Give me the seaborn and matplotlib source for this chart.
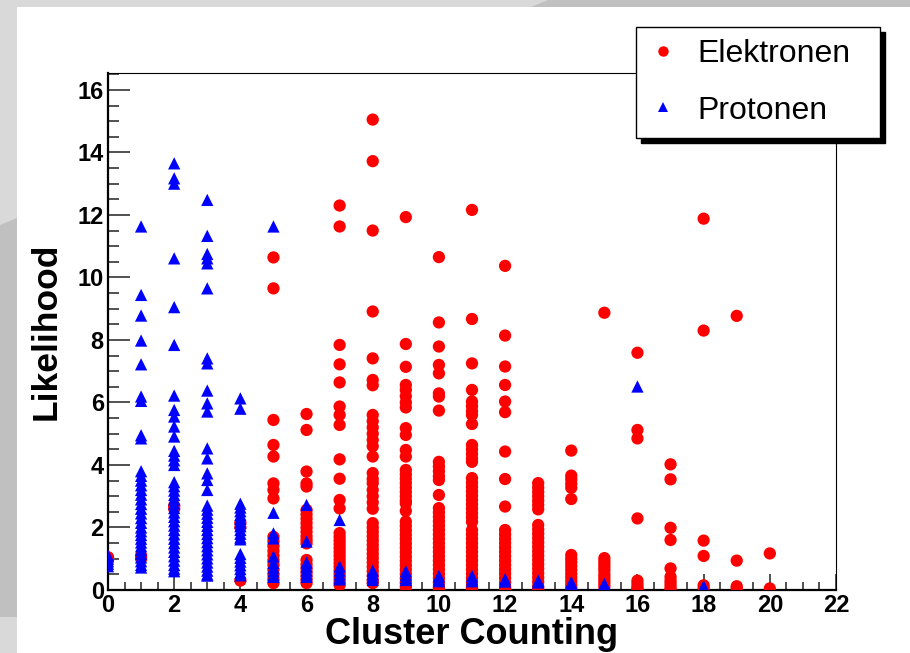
import matplotlib
matplotlib.use("Agg")
import numpy as np
import pandas as pd
import seaborn as sns
import matplotlib.pyplot as plt
from matplotlib.patches import Polygon, Rectangle
from matplotlib.ticker import MultipleLocator
from matplotlib.lines import Line2D

# ---------------- data ----------------
# Elektronen: likelihood values per cluster count
el_0 = [0.95, 1.05]
el_1 = [1.0, 1.1]
el_2 = [2.6, 2.7]
el_4 = [2.15, 2.0, 0.3]
el_5 = [10.64, 9.65, 5.44, 4.64, 4.27, 3.41, 3.2, 2.93, 1.7, 1.55, 1.4, 1.25, 1.1,
        0.95, 0.8, 0.65, 0.5, 0.35, 0.22]
el_6 = [5.63, 5.12, 3.79, 3.41, 3.31, 2.56, 2.42, 2.28, 2.14, 2.0, 1.86, 1.72, 1.6,
        1.49, 0.96, 0.82, 0.7, 0.58, 0.46, 0.34, 0.22]
el_7 = [12.3, 11.63, 7.84, 7.22, 6.64, 5.87, 5.6, 5.28, 4.18, 3.56, 2.88, 2.61, 1.82,
        1.7, 1.58, 1.46, 1.34, 1.22, 1.1, 0.98, 0.86, 0.74, 0.62, 0.5, 0.38, 0.26, 0.16]
el_8 = [15.05, 13.72, 11.5, 8.91, 7.41, 6.72, 6.55, 5.6, 5.4, 5.2, 5.0, 4.8, 4.6, 4.27,
        3.74, 3.55, 3.42, 3.2, 3.0, 2.8, 2.6, 2.14, 2.0, 1.86, 1.72, 1.58, 1.44, 1.3,
        1.16, 1.02, 0.88, 0.74, 0.6, 0.46, 0.32, 0.22]
el_9 = [11.93, 7.87, 7.14, 6.56, 6.4, 6.2, 6.0, 5.84, 5.18, 4.96, 4.48, 4.27, 3.84, 3.7,
        3.56, 3.42, 3.28, 3.14, 3.0, 2.86, 2.77, 2.53, 2.19, 2.05, 1.91, 1.77, 1.63,
        1.49, 1.35, 1.21, 1.07, 0.93, 0.79, 0.65, 0.51, 0.37, 0.23, 0.1]
el_10 = [10.65, 8.56, 7.79, 7.2, 6.93, 6.29, 6.19, 5.74, 4.1, 3.95, 3.8, 3.64, 3.52,
         3.04, 2.62, 2.48, 2.34, 2.2, 2.06, 1.92, 1.78, 1.64, 1.5, 1.36, 1.22, 1.08,
         0.94, 0.8, 0.66, 0.52, 0.38, 0.24, 0.1, 0.02]
el_11 = [12.16, 8.67, 7.25, 6.4, 6.03, 5.88, 5.72, 5.6, 5.31, 4.64, 4.5, 4.35, 4.2, 4.1,
         3.58, 3.44, 3.3, 3.16, 3.02, 2.88, 2.74, 2.6, 2.46, 2.32, 2.18, 1.92, 1.78,
         1.64, 1.5, 1.36, 1.22, 1.08, 0.94, 0.8, 0.66, 0.52, 0.38, 0.24, 0.1, 0.04]
el_12 = [10.37, 8.14, 7.15, 6.56, 6.03, 5.69, 4.43, 3.55, 2.67, 1.92, 1.78, 1.64, 1.5,
         1.36, 1.22, 1.08, 0.94, 0.8, 0.66, 0.52, 0.38, 0.24, 0.1, 0.04]
el_13 = [3.42, 3.28, 3.14, 3.0, 2.86, 2.72, 2.58, 2.08, 1.94, 1.8, 1.66, 1.52, 1.38,
         1.24, 1.1, 0.96, 0.82, 0.68, 0.54, 0.4, 0.26, 0.12, 0.05]
el_14 = [4.46, 3.66, 3.54, 3.4, 3.27, 2.91, 1.12, 1.0, 0.88, 0.76, 0.64, 0.52, 0.4,
         0.28, 0.16, 0.06]
el_15 = [8.87, 1.02, 0.92, 0.82, 0.72, 0.62, 0.5, 0.4, 0.3, 0.2, 0.1]
el_16 = [7.59, 5.12, 4.85, 2.29, 0.3, 0.2, 0.1, 0.04]
el_17 = [4.02, 3.54, 1.99, 1.6, 0.69, 0.42, 0.3, 0.2, 0.1, 0.02]
el_18 = [11.88, 8.3, 1.58, 1.09, 0.15, 0.05]
el_19 = [8.77, 0.94, 0.12, 0.06]
el_20 = [1.17, 0.05]

# Protonen: likelihood values per cluster count
pr_0 = [1.1, 1.0, 0.92, 0.84, 0.76]
pr_1 = [11.63, 9.44, 8.78, 7.98, 7.22, 6.19, 6.05, 4.95, 4.85, 3.8, 3.65, 3.5, 3.35,
        3.2, 3.05, 2.9, 2.75, 2.6, 2.45, 2.3, 2.15, 2.0, 1.88, 1.76, 1.64, 1.52, 1.4,
        1.28, 1.16, 1.04, 0.92, 0.8, 0.72]
pr_2 = [13.65, 13.17, 13.0, 10.61, 9.05, 7.84, 6.22, 5.76, 5.55, 5.23, 4.91, 4.45, 4.3,
        4.15, 4.0, 3.45, 3.32, 3.18, 3.04, 2.9, 2.76, 2.62, 2.48, 2.34, 2.2, 2.06,
        1.92, 1.78, 1.64, 1.5, 1.36, 1.22, 1.08, 0.94, 0.8, 0.68, 0.6]
pr_3 = [12.48, 11.33, 10.75, 10.61, 10.45, 9.65, 7.41, 7.25, 6.38, 5.97, 5.71, 4.53,
        4.21, 3.73, 3.52, 3.2, 2.7, 2.57, 2.44, 2.31, 2.18, 2.05, 1.92, 1.79, 1.66,
        1.53, 1.4, 1.27, 1.14, 1.01, 0.88, 0.75, 0.62, 0.5, 0.46]
pr_4 = [6.13, 5.8, 2.76, 2.64, 2.52, 2.4, 2.28, 2.16, 2.04, 1.92, 1.8, 1.68, 1.62,
        1.15, 1.03, 0.91, 0.79, 0.67, 0.55, 0.47]
pr_5 = [11.63, 2.47, 1.81, 1.65, 1.07, 0.86, 0.72, 0.6, 0.48, 0.42]
pr_6 = [2.72, 1.55, 0.88, 0.75, 0.62, 0.5, 0.42]
pr_7 = [2.24, 0.75, 0.62, 0.5, 0.4, 0.34]
pr_8 = [0.62, 0.5, 0.4, 0.32]
pr_9 = [0.6, 0.48, 0.38, 0.32]
pr_10 = [0.45, 0.35, 0.28]
pr_11 = [0.45, 0.35, 0.28]
pr_12 = [0.35, 0.27]
pr_13 = [0.3, 0.24]
pr_14 = [0.25, 0.2]
pr_15 = [0.2, 0.15]
pr_16 = [6.51]
pr_18 = [0.12]

elektronen = {0: el_0, 1: el_1, 2: el_2, 4: el_4, 5: el_5, 6: el_6, 7: el_7, 8: el_8,
              9: el_9, 10: el_10, 11: el_11, 12: el_12, 13: el_13, 14: el_14,
              15: el_15, 16: el_16, 17: el_17, 18: el_18, 19: el_19, 20: el_20}
protonen = {0: pr_0, 1: pr_1, 2: pr_2, 3: pr_3, 4: pr_4, 5: pr_5, 6: pr_6, 7: pr_7,
            8: pr_8, 9: pr_9, 10: pr_10, 11: pr_11, 12: pr_12, 13: pr_13,
            14: pr_14, 15: pr_15, 16: pr_16, 18: pr_18}

labels = ["Elektronen", "Protonen"]
x_label = "Cluster Counting"
y_label = "Likelihood"

rows = []
for k, vals in elektronen.items():
    for v in vals:
        rows.append((k, v, labels[0]))
for k, vals in protonen.items():
    for v in vals:
        rows.append((k, v, labels[1]))
df = pd.DataFrame(rows, columns=["cc", "lh", "Teilchen"])

# ---------------- figure ----------------
W, H = 910, 653
plt.rcParams["font.family"] = ["Liberation Sans", "DejaVu Sans"]
fig = plt.figure(figsize=(W / 100, H / 100), dpi=100, facecolor="#c0c0c0")


def px(x, y):
    return (x / W, 1 - y / H)


fig.patches.append(Polygon([px(0, 0), px(548, 0), px(0, 225)], closed=True,
                           transform=fig.transFigure, facecolor="#d9d9d9",
                           edgecolor="none", zorder=-3))
fig.patches.append(Rectangle(px(0, 653), 17 / W, 36 / H, transform=fig.transFigure,
                             facecolor="#d9d9d9", edgecolor="none", zorder=-3))
fig.patches.append(Rectangle(px(17, 653), 1 - 17 / W, (653 - 7) / H,
                             transform=fig.transFigure, facecolor="white",
                             edgecolor="none", zorder=-2))

ax = fig.add_axes([108 / W, 63 / H, 728 / W, 517 / H])
ax.set_facecolor("white")

sns.scatterplot(data=df, x="cc", y="lh", hue="Teilchen", style="Teilchen",
                palette={"Elektronen": "#ff0000", "Protonen": "#0000ff"},
                markers={"Elektronen": "o", "Protonen": "^"},
                s=78, linewidth=0, ax=ax, legend=False, zorder=3)

ax.set_xlim(0, 22)
ax.set_ylim(0, 16.54)
ax.xaxis.set_major_locator(MultipleLocator(2))
ax.xaxis.set_minor_locator(MultipleLocator(0.5))
ax.yaxis.set_major_locator(MultipleLocator(2))
ax.yaxis.set_minor_locator(MultipleLocator(0.5))

tick_font = dict(family="Liberation Sans", weight="bold", size=17)
ax.tick_params(axis="x", which="major", direction="in", length=11.5, width=1.1,
               color="#222222", pad=3, top=False)
ax.tick_params(axis="x", which="minor", direction="in", length=5.8, width=1.1,
               color="#222222", top=False)
ax.tick_params(axis="y", which="major", direction="in", length=15.8, width=1.1,
               color="#222222", pad=3, right=False)
ax.tick_params(axis="y", which="minor", direction="in", length=7.9, width=1.1,
               color="#222222", right=False)
for lab in ax.get_xticklabels() + ax.get_yticklabels():
    lab.set_fontproperties(tick_font)
    lab.set_fontweight("bold")

for s in ["left", "bottom"]:
    ax.spines[s].set_linewidth(1.6)
    ax.spines[s].set_color("black")
for s in ["top", "right"]:
    ax.spines[s].set_linewidth(0.8)
    ax.spines[s].set_color("black")

ax.set_xlabel(x_label, fontsize=26, fontweight="bold", va="top")
ax.xaxis.set_label_coords(0.5, -0.052)
ax.set_ylabel(y_label, fontsize=25.5, fontweight="bold")
ax.yaxis.set_label_coords(-0.062, 0.5)

handles = [Line2D([], [], marker="o", color="#ff0000", linestyle="none",
                  markersize=7.5, markeredgewidth=0),
           Line2D([], [], marker="^", color="#0000ff", linestyle="none",
                  markersize=7.5, markeredgewidth=0)]
leg_x0, leg_y1 = px(636, 137)
leg = ax.legend(handles, labels, loc="upper left", mode="expand",
                bbox_to_anchor=(leg_x0, leg_y1, 244 / W, 110 / H),
                bbox_transform=fig.transFigure,
                borderaxespad=0, fontsize=23, frameon=True, fancybox=False,
                edgecolor="black", framealpha=1, handlelength=0.92,
                handletextpad=0.62, borderpad=0.39, labelspacing=0.82,
                shadow={"ox": 3.6, "oy": -3.6, "color": "black", "alpha": 1})
leg.get_frame().set_linewidth(1.0)
leg.set_zorder(10)

fig.savefig("out.png", dpi=100, facecolor=fig.get_facecolor())
